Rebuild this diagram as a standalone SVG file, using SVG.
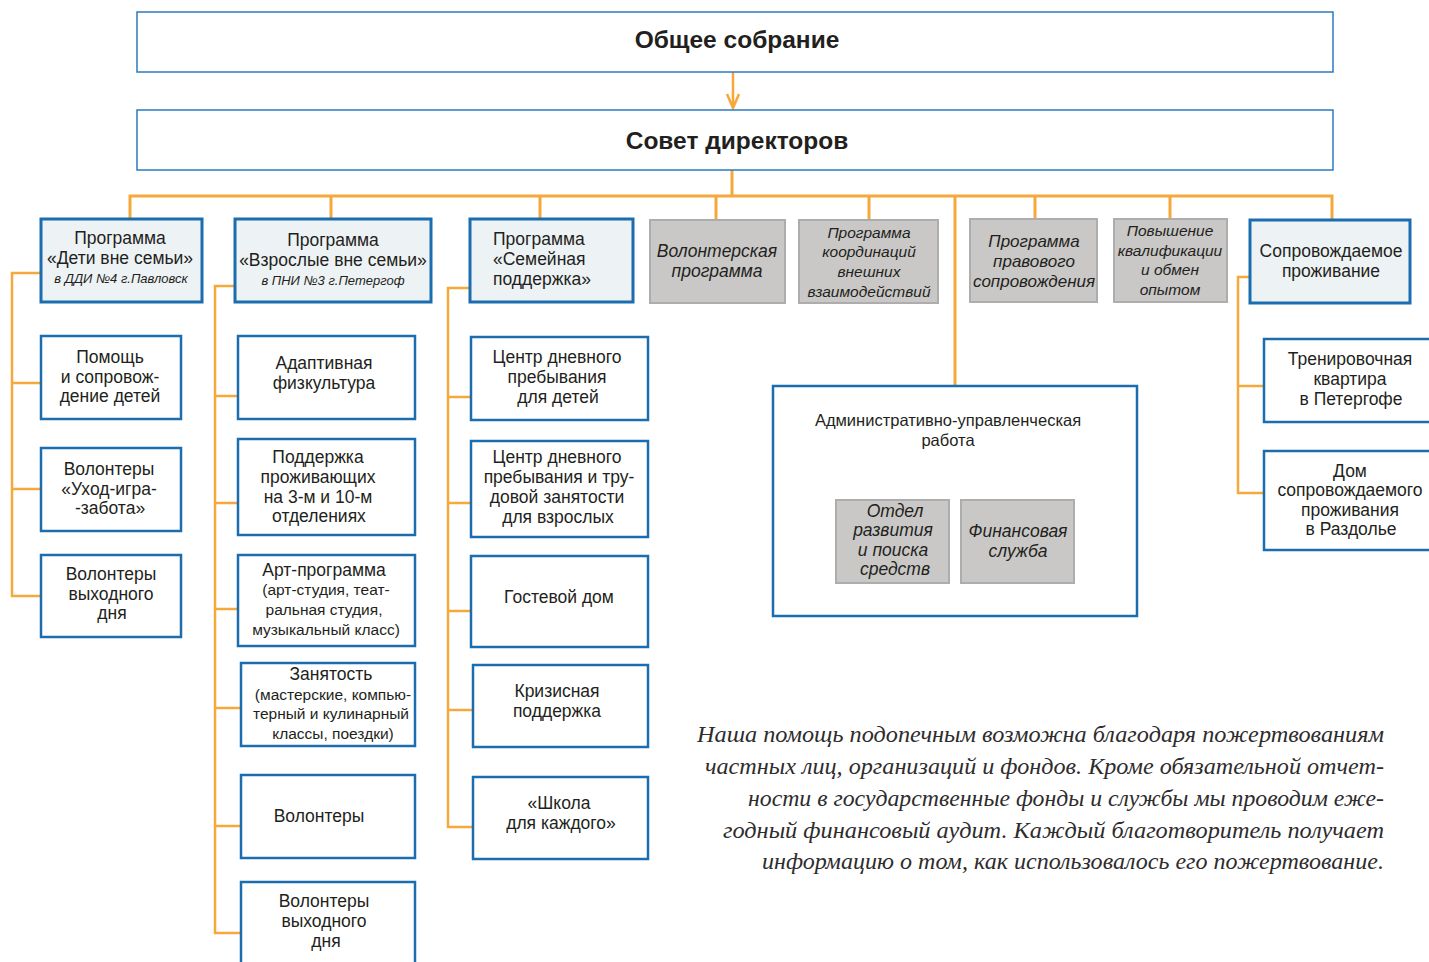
<svg xmlns="http://www.w3.org/2000/svg" width="1429" height="962" viewBox="0 0 1429 962">
<style>
.t{font-family:"Liberation Sans",Arial,sans-serif;fill:#231f20;text-anchor:middle;font-size:17.5px}
.s{font-size:15.5px}
.a{font-size:16.5px}
.i{font-style:italic}
.sm{font-size:13px;font-style:italic}
.h{font-size:24.5px;font-weight:bold}
.p{font-family:"Liberation Serif","Times New Roman",serif;font-style:italic;font-size:23px;fill:#2e2c2d;text-anchor:end}
.top{fill:#fff;stroke:#2b7bbf;stroke-width:1.5}
.prog{fill:#edf2f5;stroke:#1b6db0;stroke-width:3}
.sub{fill:#fff;stroke:#1b6db0;stroke-width:2.5}
.gray{fill:#c9c8c6;stroke:#adadad;stroke-width:2}
.c{fill:none;stroke:#f7a83a;stroke-width:3;stroke-linejoin:miter}
.c2{fill:none;stroke:#f7a83a;stroke-width:2.5}
</style>
<rect width="1429" height="962" fill="#fff"/>
<g id="connectors">
<path class="c2" d="M733 72 V108 M727 94 L733 108 L739 94"/>
<path class="c" d="M732 170 V196 M130 219 V196 H1332 V220 M331 196 V219 M540 196 V219 M716 196 V220 M869 196 V220 M955 196 V386 M1035 196 V220 M1170 196 V220"/>
<path class="c2" d="M41 273 H12 V596 H41 M12 383 H41 M12 489 H41"/>
<path class="c2" d="M235 286 H215 V933 H241 M215 396 H238 M215 503 H238 M215 609 H238 M215 708 H241 M215 826 H241"/>
<path class="c2" d="M470 288 H448 V827 H473 M448 397 H471 M448 503 H471 M448 611 H471 M448 710 H473"/>
<path class="c2" d="M1250 277 H1238 V493 H1264 M1238 386 H1264"/>
<path class="c2" d="M894 500 V477 H1017 V500"/>
</g>
<g id="obshchee">
<rect class="top" x="137" y="12" width="1196" height="60"/>
<text class="t h" x="737" y="48">Общее собрание</text>
</g>
<g id="sovet">
<rect class="top" x="137" y="110" width="1196" height="60"/>
<text class="t h" x="737" y="149">Совет директоров</text>
</g>
<g id="prog-deti">
<rect class="prog" x="41" y="219" width="161" height="83"/>
<text class="t" x="120" y="244">Программа</text>
<text class="t" x="120" y="264">«Дети вне семьи»</text>
<text class="t sm" x="121" y="283">в ДДИ №4 г.Павловск</text>
</g>
<g id="prog-vzroslye">
<rect class="prog" x="235" y="219" width="196" height="83"/>
<text class="t" x="333" y="246">Программа</text>
<text class="t" x="333" y="266">«Взрослые вне семьи»</text>
<text class="t sm" x="333" y="285">в ПНИ №3 г.Петергоф</text>
</g>
<g id="prog-semya">
<rect class="prog" x="470" y="219" width="163" height="83"/>
<text class="t" x="493" y="245" style="text-anchor:start">Программа</text>
<text class="t" x="493" y="265" style="text-anchor:start">«Семейная</text>
<text class="t" x="493" y="285" style="text-anchor:start">поддержка»</text>
</g>
<g id="prog-volonter">
<rect class="gray" x="650" y="220" width="135" height="83"/>
<text class="t i" x="717" y="257">Волонтерская</text>
<text class="t i" x="717" y="277">программа</text>
</g>
<g id="prog-koord">
<rect class="gray" x="799" y="220" width="139" height="83"/>
<text class="t i s" x="869" y="238">Программа</text>
<text class="t i s" x="869" y="257">координаций</text>
<text class="t i s" x="869" y="277">внешних</text>
<text class="t i s" x="869" y="297">взаимодействий</text>
</g>
<g id="prog-pravo">
<rect class="gray" x="970" y="219" width="127" height="83"/>
<text class="t i" x="1034" y="247" style="font-size:17px">Программа</text>
<text class="t i" x="1034" y="267" style="font-size:17px">правового</text>
<text class="t i" x="1034" y="287" style="font-size:17px">сопровождения</text>
</g>
<g id="prog-kval">
<rect class="gray" x="1114" y="219" width="113" height="83"/>
<text class="t i s" x="1170" y="236">Повышение</text>
<text class="t i s" x="1170" y="256">квалификации</text>
<text class="t i s" x="1170" y="275">и обмен</text>
<text class="t i s" x="1170" y="295">опытом</text>
</g>
<g id="prog-prozhivanie">
<rect class="prog" x="1250" y="220" width="160" height="83"/>
<text class="t" x="1331" y="257">Сопровождаемое</text>
<text class="t" x="1331" y="277">проживание</text>
</g>
<g id="pomosch">
<rect class="sub" x="41" y="336" width="140" height="83"/>
<text class="t" x="110" y="363">Помощь</text>
<text class="t" x="110" y="383">и сопровож-</text>
<text class="t" x="110" y="402">дение детей</text>
</g>
<g id="uhod">
<rect class="sub" x="41" y="448" width="140" height="83"/>
<text class="t" x="109" y="475">Волонтеры</text>
<text class="t" x="109" y="495">«Уход-игра-</text>
<text class="t" x="110" y="514">-забота»</text>
</g>
<g id="vol-vyh1">
<rect class="sub" x="41" y="555" width="140" height="82"/>
<text class="t" x="111" y="580">Волонтеры</text>
<text class="t" x="111" y="600">выходного</text>
<text class="t" x="112" y="619">дня</text>
</g>
<g id="adapt">
<rect class="sub" x="238" y="336" width="177" height="83"/>
<text class="t" x="324" y="369">Адаптивная</text>
<text class="t" x="324" y="389">физкультура</text>
</g>
<g id="podderzhka">
<rect class="sub" x="238" y="439" width="177" height="96"/>
<text class="t" x="318" y="463">Поддержка</text>
<text class="t" x="318" y="483">проживающих</text>
<text class="t" x="318" y="503">на 3-м и 10-м</text>
<text class="t" x="319" y="522">отделениях</text>
</g>
<g id="art">
<rect class="sub" x="238" y="555" width="177" height="91"/>
<text class="t" x="324" y="576">Арт-программа</text>
<text class="t s" x="326" y="595">(арт-студия, теат-</text>
<text class="t s" x="324" y="615">ральная студия,</text>
<text class="t s" x="326" y="635">музыкальный класс)</text>
</g>
<g id="zanyatost">
<rect class="sub" x="241" y="663" width="174" height="83"/>
<text class="t" x="331" y="680">Занятость</text>
<text class="t s" x="333" y="700">(мастерские, компью-</text>
<text class="t s" x="331" y="719">терный и кулинарный</text>
<text class="t s" x="333" y="739">классы, поездки)</text>
</g>
<g id="volontery">
<rect class="sub" x="241" y="775" width="174" height="83"/>
<text class="t" x="319" y="822">Волонтеры</text>
</g>
<g id="vol-vyh2">
<rect class="sub" x="241" y="882" width="174" height="90"/>
<text class="t" x="324" y="907">Волонтеры</text>
<text class="t" x="324" y="927">выходного</text>
<text class="t" x="326" y="947">дня</text>
</g>
<g id="centr-deti">
<rect class="sub" x="471" y="337" width="177" height="83"/>
<text class="t" x="557" y="363">Центр дневного</text>
<text class="t" x="557" y="383">пребывания</text>
<text class="t" x="558" y="403">для детей</text>
</g>
<g id="centr-vzr">
<rect class="sub" x="471" y="441" width="177" height="96"/>
<text class="t" x="557" y="463">Центр дневного</text>
<text class="t" x="559" y="483">пребывания и тру-</text>
<text class="t" x="557" y="503">довой занятости</text>
<text class="t" x="558" y="523">для взрослых</text>
</g>
<g id="gostevoy">
<rect class="sub" x="471" y="556" width="177" height="91"/>
<text class="t" x="559" y="603">Гостевой дом</text>
</g>
<g id="krizis">
<rect class="sub" x="473" y="665" width="175" height="82"/>
<text class="t" x="557" y="697">Кризисная</text>
<text class="t" x="557" y="717">поддержка</text>
</g>
<g id="shkola">
<rect class="sub" x="473" y="777" width="175" height="82"/>
<text class="t" x="559" y="809">«Школа</text>
<text class="t" x="561" y="829">для каждого»</text>
</g>
<g id="admin">
<rect class="sub" x="773" y="386" width="364" height="230"/>
<text class="t a" x="948" y="426">Административно-управленческая</text>
<text class="t a" x="948" y="446">работа</text>
</g>
<g id="otdel">
<rect class="gray" x="836" y="500" width="113" height="83"/>
<text class="t i" x="895" y="517">Отдел</text>
<text class="t i" x="893" y="536">развития</text>
<text class="t i" x="893" y="556">и поиска</text>
<text class="t i" x="895" y="575">средств</text>
</g>
<g id="finans">
<rect class="gray" x="961" y="500" width="113" height="83"/>
<text class="t i" x="1018" y="537">Финансовая</text>
<text class="t i" x="1018" y="557">служба</text>
</g>
<g id="trenirovochnaya">
<rect class="sub" x="1264" y="339" width="170" height="83"/>
<text class="t" x="1350" y="365">Тренировочная</text>
<text class="t" x="1350" y="385">квартира</text>
<text class="t" x="1351" y="405">в Петергофе</text>
</g>
<g id="dom">
<rect class="sub" x="1264" y="451" width="170" height="99"/>
<text class="t" x="1350" y="477">Дом</text>
<text class="t" x="1350" y="496">сопровождаемого</text>
<text class="t" x="1350" y="516">проживания</text>
<text class="t" x="1351" y="535">в Раздолье</text>
</g>
<g id="paragraph">
<text class="p" x="1384" y="742" textLength="687" lengthAdjust="spacingAndGlyphs">Наша помощь подопечным возможна благодаря пожертвованиям</text>
<text class="p" x="1384" y="774" textLength="679" lengthAdjust="spacingAndGlyphs">частных лиц, организаций и фондов. Кроме обязательной отчет-</text>
<text class="p" x="1384" y="806" textLength="636" lengthAdjust="spacingAndGlyphs">ности в государственные фонды и службы мы проводим еже-</text>
<text class="p" x="1384" y="838" textLength="661" lengthAdjust="spacingAndGlyphs">годный финансовый аудит. Каждый благотворитель получает</text>
<text class="p" x="1384" y="869" textLength="622" lengthAdjust="spacingAndGlyphs">информацию о том, как использовалось его пожертвование.</text>
</g>
</svg>
